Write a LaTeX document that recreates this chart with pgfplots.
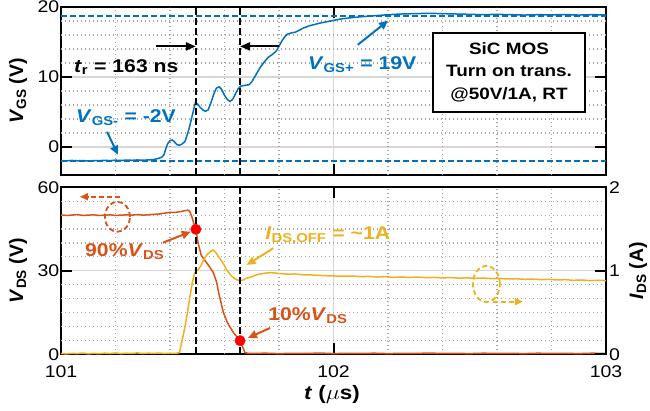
\documentclass[border=0pt]{standalone}
\usepackage{fontspec}
\setmainfont{Liberation Sans}
\usepackage{graphicx}
\usepackage{pgfplots}
\pgfplotsset{compat=1.18}
\usetikzlibrary{arrows.meta}
\definecolor{mblue}{RGB}{0,114,189}
\definecolor{morange}{RGB}{217,83,25}
\definecolor{myellow}{RGB}{237,177,32}
\definecolor{majgrid}{RGB}{215,215,215}
\definecolor{mingrid}{RGB}{165,165,165}
\newcommand{\hs}[1]{\scalebox{1.15}[1]{#1}}
\newcommand{\lblfont}{\fontsize{19.5}{22}\selectfont\bfseries}
\tikzset{ann/.style={anchor=base west, inner sep=0pt, font=\fontsize{18.5}{22}\selectfont\bfseries},
  mingridline/.style={draw=mingrid, line width=1.2bp, dash pattern=on 1.3bp off 2.7bp}}
\pgfplotsset{
  base/.style={
    scale only axis, width=545bp, clip=false,
    xmin=101, xmax=103,
    axis line style={line width=2bp, black},
    tick align=inside, major tick length=11bp, minor tick length=0bp,
    major tick style={black, line width=2bp},
    tick label style={font=\fontsize{17}{20}\selectfont, inner sep=1.5bp},
    /pgf/number format/assume math mode=true,
  },
  gridded/.style={
    xmajorgrids=true, ymajorgrids=true,
    major grid style={draw=majgrid, solid, line width=1.3bp},
  },
}
\begin{document}
\begin{tikzpicture}
\useasboundingbox (0,0) rectangle (650bp,411bp);
% ---------------- top: V_GS ----------------
\begin{axis}[base, gridded, at={(61bp,236bp)}, anchor=south west, height=168bp,
  ymin=-4, ymax=20, ytick={0,10,20}, yticklabels={\hs{0},\hs{10},\hs{20}},
  xtick={101,102,103}, xticklabels={},
  every axis y label/.style={at={(axis description cs:-0.0697,0.5)}, rotate=90, anchor=base, font=\lblfont},
  ylabel={\textit{V}\textsubscript{GS} (V)}]
% minor grid
\pgfplotsinvokeforeach{2,4,6,8,12,14,16,18}{\addplot[mingridline, forget plot] coordinates {(101,#1) (103,#1)};}
\pgfplotsinvokeforeach{101.2,101.4,101.6,101.8,102.2,102.4,102.6,102.8}{\addplot[mingridline, forget plot] coordinates {(#1,-4) (#1,20)};}
\addplot[mblue, line width=1.8bp, dash pattern=on 6bp off 3bp] coordinates {(101,18.75) (103,18.75)};
\addplot[mblue, line width=1.8bp, dash pattern=on 6bp off 3bp] coordinates {(101,-2.0) (103,-2.0)};
\addplot[mblue, line width=1.5bp] coordinates {
(101.000,-1.95) (101.020,-1.98) (101.040,-1.92) (101.060,-1.97) (101.080,-1.94) (101.100,-1.99)
(101.120,-1.93) (101.140,-1.96) (101.160,-1.90) (101.180,-1.95) (101.200,-1.88) (101.220,-1.93)
(101.240,-1.86) (101.260,-1.90) (101.280,-1.85) (101.300,-1.89) (101.320,-1.84) (101.340,-1.80)
(101.350,-1.70) (101.360,-1.60) (101.370,-1.45) (101.378,-1.10) (101.385,-0.20) (101.392,0.50)
(101.400,0.90) (101.408,1.00) (101.416,0.75) (101.425,0.35) (101.435,0.25) (101.445,0.45)
(101.455,0.80) (101.462,1.60) (101.470,2.60) (101.478,3.90) (101.486,5.20) (101.493,6.30)
(101.500,6.20) (101.510,5.70) (101.520,5.30) (101.530,5.10) (101.540,5.30) (101.550,6.30)
(101.560,7.50) (101.570,8.40) (101.580,8.60) (101.590,8.20) (101.600,7.40) (101.610,6.80)
(101.620,6.50) (101.630,6.80) (101.640,7.60) (101.650,8.30) (101.660,8.70) (101.675,8.80)
(101.690,8.90) (101.700,9.30) (101.715,10.30) (101.730,11.30) (101.745,12.10) (101.760,12.80)
(101.775,13.20) (101.790,13.70) (101.800,14.40) (101.810,15.10) (101.820,15.70) (101.830,16.10)
(101.845,16.30) (101.860,16.40) (101.875,16.70) (101.890,17.00) (101.910,17.30) (101.930,17.50)
(101.950,17.70) (101.970,17.85) (101.990,18.00) (102.020,18.25) (102.060,18.45) (102.100,18.60)
(102.150,18.75) (102.200,18.90) (102.250,19.00) (102.300,19.05) (102.350,19.10) (102.400,19.05)
(102.450,19.00) (102.500,18.95) (102.550,18.90) (102.600,18.95) (102.650,18.90) (102.700,18.85)
(102.750,18.90) (102.800,18.88) (102.850,18.92) (102.900,18.85) (102.950,18.90) (103.000,18.88)};
\addplot[black, line width=1.8bp, dash pattern=on 7bp off 3bp] coordinates {(101.495,-4) (101.495,20)};
\addplot[black, line width=1.8bp, dash pattern=on 7bp off 3bp] coordinates {(101.657,-4) (101.657,20)};
% annotations
\draw[black, line width=2bp, -{Triangle[length=10bp,width=8bp]}] (axis cs:101.349,14.37) -- (axis cs:101.495,14.37);
\draw[black, line width=2bp, -{Triangle[length=10bp,width=8bp]}] (axis cs:101.800,14.37) -- (axis cs:101.657,14.37);
\node[ann] at (axis cs:101.0477,10.66) {\hs{\textit{t}\textsubscript{r} = 163 ns}};
\node[ann, text=mblue] at (axis cs:101.055,3.47) {\hs{\textit{V}\textsubscript{GS-} = -2V}};
\draw[mblue, line width=2bp, -{Triangle[length=9bp,width=8bp]}] (axis cs:101.169,2.17) -- (axis cs:101.209,-1.11);
\node[ann, text=mblue] at (axis cs:101.906,11.1) {\hs{\textit{V}\textsubscript{GS+} = 19V}};
\draw[mblue, line width=2bp, -{Triangle[length=9bp,width=8bp]}] (axis cs:102.089,14.6) -- (axis cs:102.200,18.04);
\node[draw, line width=2bp, fill=white, minimum width=152bp, minimum height=79bp, align=center,
  inner sep=0pt, font=\fontsize{16.5}{22.5}\selectfont\bfseries] at (axis cs:102.644,10.69)
  {\hs{SiC MOS}\\\hs{Turn on trans.}\\\hs{@50V/1A, RT}};
\end{axis}
% ---------------- bottom: V_DS (left) ----------------
\begin{axis}[base, gridded, at={(61bp,56.7bp)}, anchor=south west, height=167bp,
  ymin=0, ymax=60, ytick={0,30,60}, yticklabels={\hs{0},\hs{30},\hs{60}}, ytick pos=left,
  xtick={101,102,103}, xticklabels={\hs{101},\hs{102},\hs{103}}, xticklabel style={yshift=-10bp},
  every axis y label/.style={at={(axis description cs:-0.0697,0.5)}, rotate=90, anchor=base, font=\lblfont},
  ylabel={\textit{V}\textsubscript{DS} (V)},
  every axis x label/.style={at={(axis description cs:0.497,-0.269)}, anchor=base, font=\lblfont},
  xlabel={\hs{\textit{t} ($\mu$s)}}]
\pgfplotsinvokeforeach{5,10,15,20,25,35,40,45,50,55}{\addplot[mingridline, forget plot] coordinates {(101,#1) (103,#1)};}
\pgfplotsinvokeforeach{101.2,101.4,101.6,101.8,102.2,102.4,102.6,102.8}{\addplot[mingridline, forget plot] coordinates {(#1,0) (#1,60)};}
\addplot[morange, line width=1.5bp] coordinates {
(101.00,50.1) (101.02,49.9) (101.04,50.0) (101.06,50.2) (101.08,49.9) (101.10,50.0) (101.12,50.1)
(101.14,49.9) (101.16,50.0) (101.18,50.1) (101.20,49.9) (101.22,50.0) (101.24,50.1) (101.26,50.0)
(101.28,50.2) (101.30,50.0) (101.32,50.1) (101.34,50.3) (101.36,50.4) (101.38,50.7) (101.40,51.0)
(101.42,51.0) (101.44,51.3) (101.455,51.6) (101.465,51.8) (101.472,51.4) (101.480,49.5)
(101.488,46.8) (101.495,44.9) (101.503,40.0) (101.515,35.5) (101.530,33.5) (101.546,31.3)
(101.558,29.5) (101.571,26.0) (101.580,21.5) (101.596,15.0) (101.610,11.5) (101.620,9.8)
(101.635,7.5) (101.651,5.8) (101.657,4.9) (101.667,2.5) (101.675,0.6) (101.690,0.3)
(101.75,0.4) (101.80,0.25) (101.85,0.35) (101.90,0.3) (101.95,0.45) (102.00,0.25) (102.05,0.35)
(102.10,0.3) (102.15,0.4) (102.20,0.25) (102.25,0.35) (102.30,0.3) (102.35,0.45) (102.40,0.3)
(102.45,0.35) (102.50,0.25) (102.55,0.4) (102.60,0.3) (102.65,0.35) (102.70,0.25) (102.75,0.4)
(102.80,0.3) (102.85,0.35) (102.90,0.25) (102.95,0.4) (103.00,0.3)};
\end{axis}
% ---------------- bottom: I_DS (right) ----------------
\begin{axis}[base, at={(61bp,56.7bp)}, anchor=south west, height=167bp,
  ymin=0, ymax=2, axis y line*=right, axis x line=none,
  ytick={0,1,2}, yticklabels={\hs{0},\hs{1},\hs{2}}, yticklabel style={xshift=1.5bp},
  every axis y label/.style={at={(axis description cs:1.068,0.5)}, rotate=90, anchor=base, font=\lblfont},
  ylabel={\textit{I}\textsubscript{DS} (A)}]
\addplot[myellow, line width=1.5bp] coordinates {
(101.00,0.010) (101.02,0.005) (101.04,0.012) (101.06,0.008) (101.08,0.015) (101.10,0.006)
(101.12,0.012) (101.14,0.007) (101.16,0.014) (101.18,0.009) (101.20,0.016) (101.22,0.008)
(101.24,0.013) (101.26,0.010) (101.28,0.017) (101.30,0.009) (101.32,0.014) (101.34,0.011)
(101.36,0.015) (101.38,0.009) (101.40,0.013) (101.42,0.010) (101.435,0.02) (101.440,0.10)
(101.448,0.22) (101.455,0.33) (101.465,0.52) (101.473,0.69) (101.482,0.86) (101.490,0.97)
(101.497,1.00) (101.505,1.02) (101.515,1.07) (101.525,1.14) (101.535,1.19) (101.548,1.23)
(101.558,1.25) (101.568,1.22) (101.580,1.16) (101.595,1.09) (101.610,1.00) (101.625,0.94)
(101.640,0.90) (101.655,0.88) (101.668,0.89) (101.680,0.91) (101.700,0.93) (101.720,0.955)
(101.745,0.97) (101.770,0.978) (101.800,0.968) (101.830,0.960) (101.860,0.962) (101.890,0.952)
(101.920,0.950) (101.950,0.945) (101.980,0.940) (102.010,0.937) (102.040,0.935) (102.070,0.938)
(102.100,0.930) (102.130,0.933) (102.160,0.925) (102.190,0.930) (102.220,0.922) (102.250,0.926)
(102.280,0.920) (102.310,0.925) (102.340,0.918) (102.370,0.921) (102.400,0.915) (102.430,0.919)
(102.460,0.912) (102.490,0.915) (102.520,0.910) (102.550,0.913) (102.580,0.906) (102.610,0.909)
(102.640,0.902) (102.670,0.905) (102.700,0.898) (102.730,0.901) (102.760,0.894) (102.790,0.898)
(102.820,0.890) (102.850,0.894) (102.880,0.886) (102.910,0.890) (102.940,0.882) (102.970,0.887)
(103.000,0.882)};
\end{axis}
% ---------------- bottom: overlay for markers and notes ----------------
\begin{axis}[base, at={(61bp,56.7bp)}, anchor=south west, height=167bp,
  ymin=0, ymax=60, hide axis]
\addplot[black, line width=1.8bp, dash pattern=on 7bp off 3bp] coordinates {(101.495,0) (101.495,60)};
\addplot[black, line width=1.8bp, dash pattern=on 7bp off 3bp] coordinates {(101.657,0) (101.657,60)};
\addplot[only marks, mark=*, mark size=5.2bp, color=red, mark options={fill=red, draw=red}] coordinates {(101.495,44.9) (101.657,4.9)};
\draw[morange, line width=1.8bp, dash pattern=on 5bp off 3bp] (axis cs:101.207,49.4) ellipse [x radius=12.5bp, y radius=15bp];
\draw[morange, line width=1.8bp, dash pattern=on 5bp off 3bp, -{Triangle[length=8bp,width=7bp]}] (axis cs:101.2165,56.6) -- (axis cs:101.0697,56.6);
\draw[myellow, line width=1.8bp, dash pattern=on 5bp off 3bp] (axis cs:102.561,25.26) ellipse [x radius=13.5bp, y radius=18bp];
\draw[myellow, line width=1.8bp, dash pattern=on 5bp off 3bp, -{Triangle[length=8bp,width=7bp]}] (axis cs:102.585,18.9) -- (axis cs:102.695,18.9);
\node[ann, text=morange] at (axis cs:101.088,35.3) {\hs{90\%\textit{V}\textsubscript{DS}}};
\draw[morange, line width=2bp, -{Triangle[length=9bp,width=8bp]}] (axis cs:101.374,40.1) -- (axis cs:101.476,44.05);
\node[ann, text=morange] at (axis cs:101.760,12.3) {\hs{10\%\textit{V}\textsubscript{DS}}};
\draw[morange, line width=2bp, -{Triangle[length=9bp,width=8bp]}] (axis cs:101.767,9.45) -- (axis cs:101.686,5.86);
\node[ann, text=myellow] at (axis cs:101.749,41.4) {\hs{\textit{I}\textsubscript{DS,OFF} = \textasciitilde1A}};
\draw[myellow, line width=2bp, -{Triangle[length=9bp,width=8bp]}] (axis cs:101.779,38.1) -- (axis cs:101.681,32.1);
\end{axis}
\end{tikzpicture}
\end{document}
